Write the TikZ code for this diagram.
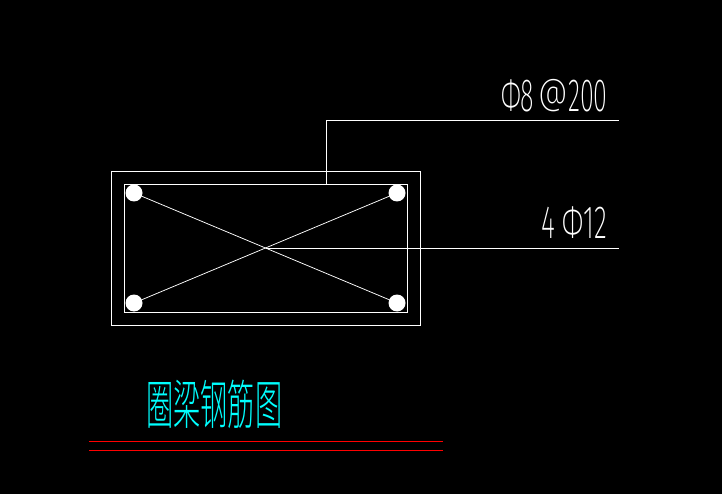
\documentclass[tikz,border=0pt]{standalone}
\usepackage{fontspec}
\usepackage{graphicx}
\setmainfont{Fira Sans ExtraLight}
\newfontfamily\cjkface{Noto Sans CJK SC Light}
\definecolor{cadcyan}{RGB}{0,255,255}
\definecolor{cadred}{RGB}{255,0,0}
\tikzset{
  x=1pt,y=-1pt,
  wire/.style={draw=white,line width=0.75pt},
  tie/.style={draw=white,line width=0.75pt},
  bar/.style={circle,fill=white,draw=none,minimum size=17pt,inner sep=0pt},
  label/.style={text=white,inner sep=0pt,anchor=base west},
  title/.style={text=cadcyan,inner sep=0pt,anchor=west},
  rule/.style={draw=cadred,line width=1pt},
  heavy rule/.style={draw=cadred,line width=1.5pt}
}
\newcommand{\lifted}[1]{\raisebox{4.5pt}{\scalebox{1.15}[0.78]{#1}}}
\begin{document}
\begin{tikzpicture}
\useasboundingbox[fill=black] (0,0) rectangle (722,494);
\draw[wire] (111,171) rectangle (420,325);
\draw[tie] (124,184) rectangle (407,312);
\node[bar] (tl) at (134,193) {};
\node[bar] (tr) at (397,193) {};
\node[bar] (bl) at (134,303) {};
\node[bar] (br) at (397,303) {};
\draw[tie] (tl) -- (br);
\draw[tie] (bl) -- (tr);
\coordinate (stirrup) at (326,184);
\coordinate (elbow) at (326,120);
\coordinate (end1) at (619,120);
\coordinate (mid) at (266,248);
\coordinate (end2) at (619,248);
\draw[wire] (stirrup) -- (elbow) -- (end1);
\draw[wire] (mid) -- (end2);
\node[label] (t1) at (501,112) {\scalebox{0.9}[1.66]{\fontsize{28}{28}\selectfont Φ8\,\lifted{@}200}};
\node[label] (t2) at (541,238) {\scalebox{0.96}[1.66]{\fontsize{28}{28}\selectfont 4 Φ12}};
\node[title] (t3) at (146,404) {\scalebox{0.68}[1.33]{\fontsize{40}{40}\selectfont\cjkface 圈梁钢筋图}};
\coordinate (a1) at (89,441);
\coordinate (a2) at (443,441);
\coordinate (b1) at (89,450.5);
\coordinate (b2) at (443,450.5);
\draw[rule] (a1) -- (a2);
\draw[heavy rule] (b1) -- (b2);
\end{tikzpicture}
\end{document}
